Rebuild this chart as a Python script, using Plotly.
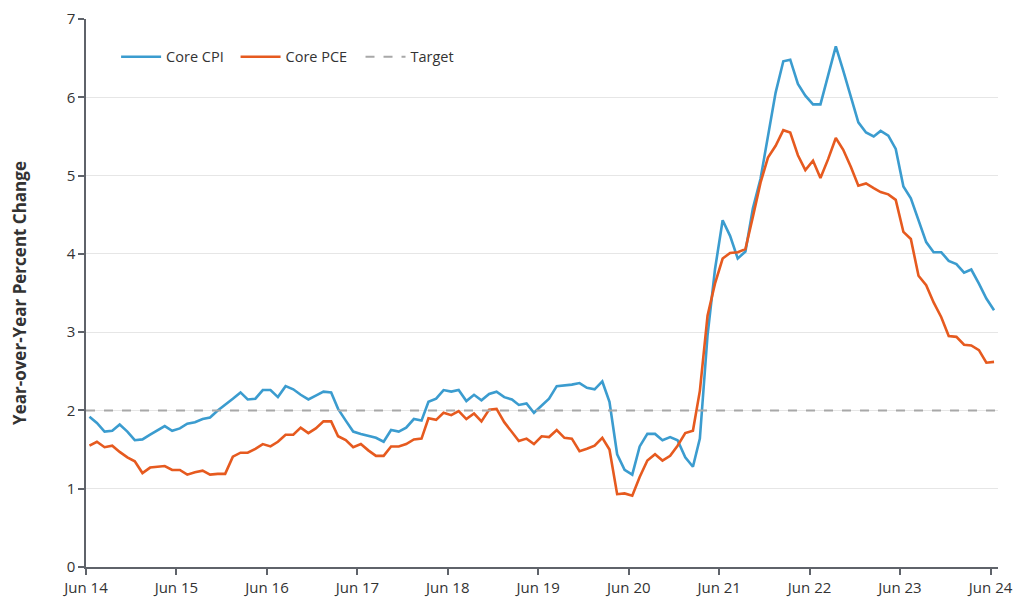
import pandas as pd
import plotly.graph_objects as go

# Monthly observations, Jun 2014 - Jun 2024 (plotted mid-month)
start_month = "2014-06-01"
n_months = 121

core_cpi = [
    1.92, 1.84, 1.73, 1.74, 1.82, 1.73, 1.62, 1.63, 1.69, 1.74, 1.80, 1.74,
    1.77, 1.83, 1.85, 1.89, 1.91, 2.00, 2.07, 2.15, 2.23, 2.14, 2.15, 2.26,
    2.26, 2.17, 2.31, 2.27, 2.20, 2.14, 2.19, 2.24, 2.23, 2.02, 1.87, 1.73,
    1.70, 1.68, 1.65, 1.60, 1.75, 1.73, 1.78, 1.89, 1.87, 2.11, 2.15, 2.26,
    2.24, 2.26, 2.12, 2.20, 2.13, 2.21, 2.24, 2.17, 2.14, 2.07, 2.09, 1.97,
    2.06, 2.15, 2.31, 2.32, 2.33, 2.35, 2.29, 2.27, 2.37, 2.11, 1.44, 1.24,
    1.18, 1.54, 1.70, 1.70, 1.62, 1.66, 1.62, 1.40, 1.28, 1.64, 2.96, 3.80,
    4.43, 4.23, 3.94, 4.03, 4.58, 4.96, 5.48, 6.06, 6.46, 6.48, 6.17, 6.02,
    5.91, 5.91, 6.28, 6.65, 6.34, 6.00, 5.68, 5.55, 5.50, 5.57, 5.51, 5.34,
    4.86, 4.71, 4.43, 4.15, 4.02, 4.02, 3.91, 3.87, 3.76, 3.80, 3.62, 3.43,
    3.28,
]

core_pce = [
    1.55, 1.60, 1.53, 1.55, 1.47, 1.40, 1.35, 1.20, 1.27, 1.28, 1.29, 1.24,
    1.24, 1.18, 1.21, 1.23, 1.18, 1.19, 1.19, 1.41, 1.46, 1.46, 1.51, 1.57,
    1.54, 1.60, 1.69, 1.69, 1.78, 1.71, 1.77, 1.86, 1.86, 1.67, 1.62, 1.53,
    1.57, 1.49, 1.42, 1.42, 1.54, 1.54, 1.57, 1.63, 1.64, 1.90, 1.88, 1.97,
    1.94, 1.99, 1.89, 1.96, 1.86, 2.01, 2.02, 1.85, 1.73, 1.61, 1.64, 1.57,
    1.67, 1.66, 1.75, 1.65, 1.64, 1.48, 1.51, 1.55, 1.65, 1.50, 0.93, 0.94,
    0.91, 1.15, 1.36, 1.44, 1.36, 1.42, 1.55, 1.71, 1.74, 2.25, 3.21, 3.62,
    3.94, 4.01, 4.02, 4.06, 4.47, 4.91, 5.23, 5.38, 5.58, 5.55, 5.26, 5.07,
    5.19, 4.97, 5.21, 5.48, 5.33, 5.11, 4.87, 4.90, 4.84, 4.79, 4.76, 4.69,
    4.28, 4.19, 3.72, 3.60, 3.38, 3.19, 2.95, 2.94, 2.84, 2.83, 2.77, 2.61,
    2.62,
]

target_value = [2.0, 2.0]
x_range = ["2014-06-01", "2024-07-01"]
tick_start = "2014-06-01"
y_ticks = [0, 1, 2, 3, 4, 5, 6, 7]

dates = pd.date_range(start_month, periods=n_months, freq="MS") + pd.Timedelta(days=14)

BLUE = "#3b9ccf"
ORANGE = "#e65a1f"
GRAY = "#a8a8a8"
TEXT = "#333333"
AXIS = "#5f636a"

fig = go.Figure()
fig.add_trace(go.Scatter(x=dates, y=core_cpi, mode="lines", name="Core CPI",
                         line=dict(color=BLUE, width=2.6), legend="legend"))
fig.add_trace(go.Scatter(x=dates, y=core_pce, mode="lines", name="Core PCE",
                         line=dict(color=ORANGE, width=2.6), legend="legend2"))
fig.add_trace(go.Scatter(x=x_range, y=target_value, mode="lines", name="Target",
                         line=dict(color=GRAY, width=2, dash="dash"), legend="legend3"))

leg_common = dict(orientation="h", y=0.931, xanchor="left", yanchor="middle",
                  font=dict(size=14.5, color=TEXT), bgcolor="rgba(0,0,0,0)",
                  itemwidth=40)

fig.update_layout(
    width=1024, height=610,
    margin=dict(l=78, r=34, t=11, b=51),
    paper_bgcolor="white", plot_bgcolor="white",
    font=dict(family="Open Sans", size=15, color=TEXT),
    showlegend=True,
    legend=dict(x=0.033, **leg_common),
    legend2=dict(x=0.164, **leg_common),
    legend3=dict(x=0.301, **leg_common),
)

fig.update_xaxes(
    type="date", range=x_range, tick0=tick_start, dtick="M12", tickformat="%b %y",
    showgrid=False, showline=True, linecolor=AXIS, linewidth=1.5,
    ticks="outside", ticklen=6, tickcolor=AXIS, tickwidth=1.5,
    tickfont=dict(size=15, color=TEXT), zeroline=False, automargin=False,
)
fig.update_yaxes(
    range=[0, 7], tickvals=y_ticks, showgrid=True, gridcolor="#e6e6e6", gridwidth=1,
    showline=True, linecolor=AXIS, linewidth=1.5,
    ticks="outside", ticklen=6, tickcolor=AXIS, tickwidth=1.5,
    tickfont=dict(size=15, color=TEXT), zeroline=False, automargin=False,
    title=dict(text="<b>Year-over-Year Percent Change</b>", font=dict(size=17, color=TEXT),
               standoff=38),
)

fig.write_html("out.html")
